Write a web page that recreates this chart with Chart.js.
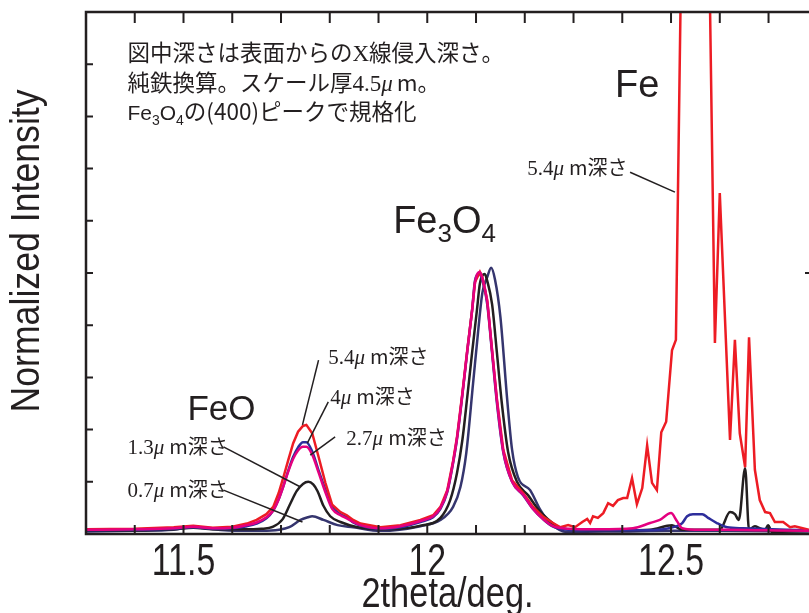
<!DOCTYPE html>
<html>
<head>
<meta charset="utf-8">
<script src="https://cdn.jsdelivr.net/npm/chart.js@4.4.0/dist/chart.umd.min.js"></script>
<style>
  body { margin: 0; background: #fff; }
  canvas { display: block; }
</style>
</head>
<body>
<canvas id="myChart" width="809" height="613"></canvas>
<script>
// x ticks (deg) and y ticks (no labels)
const xTicks = [11.4, 11.5, 11.6, 11.7, 11.8, 11.9, 12.0, 12.1, 12.2, 12.3, 12.4, 12.5, 12.6, 12.7];
const xLabels = [11.5, 12, 12.5];
const yTicks = [1, 2, 3, 4, 5, 6, 7, 8, 9];

// 5.4um depth (red)
const d54X = [11.30, 11.40, 11.48, 11.52, 11.56, 11.60, 11.63, 11.65, 11.67, 11.684, 11.695, 11.705, 11.715, 11.725, 11.735, 11.745, 11.752, 11.764, 11.777, 11.791, 11.805, 11.822, 11.835, 11.848, 11.863, 11.904, 11.945, 11.986, 12.012, 12.027, 12.041, 12.053, 12.061, 12.072, 12.082, 12.092, 12.098, 12.108, 12.113, 12.123, 12.133, 12.143, 12.156, 12.174, 12.197, 12.217, 12.238, 12.258, 12.273, 12.289, 12.303, 12.318, 12.328, 12.334, 12.340, 12.350, 12.361, 12.371, 12.381, 12.391, 12.402, 12.410, 12.420, 12.430, 12.441, 12.451, 12.461, 12.471, 12.480, 12.490, 12.502, 12.510, 12.549, 12.590, 12.600, 12.621, 12.631, 12.641, 12.652, 12.660, 12.672, 12.682, 12.693, 12.703, 12.713, 12.730, 12.744, 12.754, 12.770, 12.783];
const d54Y = [0.09, 0.10, 0.13, 0.16, 0.12, 0.14, 0.20, 0.27, 0.38, 0.52, 0.78, 1.09, 1.42, 1.74, 1.96, 2.07, 2.09, 1.93, 1.48, 0.98, 0.56, 0.42, 0.36, 0.27, 0.20, 0.13, 0.17, 0.27, 0.36, 0.52, 0.84, 1.40, 1.86, 2.70, 3.52, 4.29, 4.83, 5.02, 4.92, 4.48, 3.52, 2.57, 1.61, 1.03, 0.78, 0.52, 0.33, 0.21, 0.13, 0.17, 0.13, 0.23, 0.29, 0.21, 0.34, 0.31, 0.40, 0.59, 0.54, 0.65, 0.69, 0.69, 1.07, 0.57, 0.88, 1.70, 0.98, 0.84, 1.95, 2.15, 3.52, 3.72, 30, 3.66, 6.53, 1.80, 3.72, 1.93, 1.28, 3.77, 1.23, 0.65, 0.42, 0.40, 0.23, 0.23, 0.13, 0.15, 0.11, 0.08];

// 4um depth (blue)
const d40X = [11.30, 11.40, 11.48, 11.52, 11.56, 11.60, 11.63, 11.65, 11.67, 11.684, 11.695, 11.705, 11.715, 11.725, 11.735, 11.745, 11.752, 11.764, 11.777, 11.791, 11.805, 11.822, 11.835, 11.848, 11.863, 11.904, 11.945, 11.986, 12.012, 12.027, 12.041, 12.053, 12.061, 12.072, 12.082, 12.092, 12.098, 12.106, 12.113, 12.123, 12.133, 12.143, 12.156, 12.174, 12.197, 12.217, 12.238, 12.258, 12.29, 12.35, 12.45, 12.512, 12.523, 12.533, 12.545, 12.564, 12.576, 12.594, 12.615, 12.648, 12.783];
const d40Y = [0.07, 0.08, 0.10, 0.13, 0.10, 0.11, 0.15, 0.20, 0.30, 0.45, 0.66, 0.92, 1.22, 1.48, 1.66, 1.76, 1.76, 1.58, 1.22, 0.85, 0.52, 0.38, 0.32, 0.22, 0.16, 0.10, 0.13, 0.23, 0.32, 0.48, 0.80, 1.36, 1.82, 2.66, 3.50, 4.30, 4.86, 4.98, 4.86, 4.40, 3.46, 2.50, 1.56, 1.00, 0.74, 0.48, 0.28, 0.14, 0.08, 0.07, 0.07, 0.15, 0.21, 0.34, 0.38, 0.38, 0.31, 0.21, 0.13, 0.11, 0.07];

// 2.7um depth (magenta)
const d27X = [11.30, 11.40, 11.48, 11.52, 11.56, 11.60, 11.63, 11.65, 11.67, 11.684, 11.695, 11.705, 11.715, 11.725, 11.735, 11.745, 11.752, 11.764, 11.777, 11.791, 11.805, 11.822, 11.835, 11.848, 11.863, 11.904, 11.945, 11.986, 12.012, 12.027, 12.041, 12.053, 12.061, 12.072, 12.082, 12.092, 12.098, 12.108, 12.113, 12.123, 12.133, 12.143, 12.156, 12.174, 12.197, 12.217, 12.238, 12.258, 12.29, 12.35, 12.422, 12.457, 12.477, 12.50, 12.512, 12.523, 12.56, 12.615, 12.70, 12.783];
const d27Y = [0.08, 0.09, 0.11, 0.14, 0.11, 0.12, 0.17, 0.22, 0.32, 0.45, 0.66, 0.92, 1.20, 1.44, 1.60, 1.67, 1.67, 1.52, 1.18, 0.80, 0.48, 0.36, 0.30, 0.23, 0.17, 0.11, 0.15, 0.25, 0.34, 0.50, 0.82, 1.38, 1.84, 2.68, 3.50, 4.28, 4.82, 5.02, 4.90, 4.45, 3.50, 2.55, 1.58, 1.00, 0.75, 0.48, 0.28, 0.15, 0.10, 0.09, 0.11, 0.21, 0.27, 0.40, 0.25, 0.11, 0.08, 0.08, 0.07, 0.06];

// 1.3um depth (black)
const d13X = [11.30, 11.40, 11.48, 11.52, 11.56, 11.62, 11.66, 11.684, 11.703, 11.719, 11.732, 11.745, 11.756, 11.766, 11.775, 11.787, 11.801, 11.822, 11.857, 11.904, 11.945, 11.986, 12.027, 12.047, 12.061, 12.072, 12.082, 12.092, 12.102, 12.108, 12.118, 12.123, 12.133, 12.143, 12.153, 12.166, 12.184, 12.207, 12.227, 12.248, 12.268, 12.30, 12.40, 12.457, 12.502, 12.523, 12.600, 12.621, 12.631, 12.639, 12.652, 12.660, 12.672, 12.682, 12.693, 12.699, 12.707, 12.783];
const d13Y = [0.06, 0.07, 0.09, 0.12, 0.09, 0.09, 0.10, 0.14, 0.28, 0.58, 0.82, 0.96, 1.00, 0.95, 0.82, 0.54, 0.34, 0.23, 0.13, 0.09, 0.10, 0.16, 0.31, 0.65, 1.17, 1.80, 2.62, 3.48, 4.30, 4.80, 4.98, 4.85, 4.40, 3.46, 2.50, 1.56, 1.00, 0.74, 0.48, 0.28, 0.14, 0.08, 0.07, 0.08, 0.17, 0.08, 0.08, 0.42, 0.38, 0.27, 1.26, 0.08, 0.15, 0.11, 0.08, 0.17, 0.04, 0.06];

// 0.7um depth (navy)
const d07X = [11.30, 11.40, 11.48, 11.52, 11.56, 11.62, 11.66, 11.696, 11.717, 11.740, 11.755, 11.764, 11.787, 11.816, 11.848, 11.904, 11.986, 12.027, 12.053, 12.068, 12.080, 12.094, 12.104, 12.113, 12.123, 12.131, 12.139, 12.150, 12.164, 12.174, 12.186, 12.211, 12.232, 12.252, 12.287, 12.40, 12.50, 12.60, 12.783];
const d07Y = [0.05, 0.06, 0.08, 0.14, 0.09, 0.06, 0.06, 0.08, 0.13, 0.27, 0.32, 0.34, 0.27, 0.17, 0.13, 0.06, 0.15, 0.27, 0.52, 0.90, 1.55, 2.89, 3.85, 4.62, 4.92, 5.10, 4.87, 4.16, 2.57, 1.61, 1.09, 0.84, 0.46, 0.21, 0.04, 0.05, 0.06, 0.06, 0.05];

const ink = '#231f20';
const sans = "'Liberation Sans', Arial, sans-serif";
const jp = "'Noto Sans CJK JP', sans-serif";
const serif = "'Liberation Serif', serif";

function pts(xs, ys) {
  return xs.map((x, i) => ({ x: x, y: ys[i] }));
}

function drawRich(ctx, x, y, segs) {
  ctx.textBaseline = 'alphabetic';
  ctx.textAlign = 'left';
  segs.forEach((s) => {
    ctx.font = s.font;
    ctx.fillText(s.t, x, y + (s.dy || 0));
    x += ctx.measureText(s.t).width + (s.gap || 0);
  });
}

// narrow Helvetica look: squeeze Liberation Sans horizontally
function drawSqueezed(ctx, text, cx, cy, font, sx, rot) {
  ctx.save();
  ctx.translate(cx, cy);
  if (rot) ctx.rotate(rot);
  ctx.scale(sx, 1);
  ctx.font = font;
  ctx.textAlign = 'center';
  ctx.fillText(text, 0, 0);
  ctx.restore();
}

function depthLabel(num) {
  return [
    { t: num, font: '21px ' + serif },
    { t: 'μ', font: 'italic 21px ' + serif, gap: 5 },
    { t: 'm深さ', font: '20px ' + jp }
  ];
}

// annotation anchors in data units
const notes = {
  info: [
    { x: 11.385, y: 9.06, segs: [
      { t: '図中深さは表面からの', font: '22.5px ' + jp },
      { t: 'X', font: '23px ' + serif },
      { t: '線侵入深さ。', font: '22.5px ' + jp }] },
    { x: 11.385, y: 8.49, segs: [
      { t: '純鉄換算。スケール厚', font: '22.5px ' + jp },
      { t: '4.5', font: '23px ' + serif },
      { t: 'μ', font: 'italic 23px ' + serif, gap: 4 },
      { t: 'm。', font: '22.5px ' + jp }] },
    { x: 11.385, y: 7.93, segs: [
      { t: 'Fe', font: '21px ' + sans },
      { t: '3', font: '14px ' + sans, dy: 5 },
      { t: 'O', font: '21px ' + sans },
      { t: '4', font: '14px ' + sans, dy: 5 },
      { t: 'の(400)ピークで規格化', font: '22.5px ' + jp }] }
  ],
  peaks: [
    { x: 11.508, y: 2.18, segs: [{ t: 'FeO', font: '35px ' + sans }] },
    { x: 11.930, y: 5.77, segs: [
      { t: 'Fe', font: '38px ' + sans },
      { t: '3', font: '26px ' + sans, dy: 9 },
      { t: 'O', font: '38px ' + sans },
      { t: '4', font: '26px ' + sans, dy: 9 }] },
    { x: 12.385, y: 8.37, segs: [{ t: 'Fe', font: '38px ' + sans }] }
  ],
  depths: [
    { num: '5.4', x: 11.797, y: 3.26, from: [11.777, 3.33], to: [11.744, 2.09] },
    { num: '4', x: 11.801, y: 2.49, from: [11.797, 2.53], to: [11.754, 1.74] },
    { num: '2.7', x: 11.834, y: 1.70, from: [11.811, 1.86], to: [11.760, 1.51] },
    { num: '1.3', x: 11.385, y: 1.53, from: [11.582, 1.67], to: [11.740, 0.90] },
    { num: '0.7', x: 11.385, y: 0.71, from: [11.582, 0.84], to: [11.744, 0.23] },
    { num: '5.4', x: 12.205, y: 6.88, from: [12.416, 6.93], to: [12.508, 6.55] }
  ]
};

const framePlugin = {
  id: 'frame',
  afterDatasetsDraw(chart) {
    const { ctx, chartArea: a, scales: { x, y } } = chart;
    ctx.save();
    ctx.strokeStyle = ink;
    ctx.fillStyle = ink;

    // frame (right side is cut off in the original)
    ctx.lineWidth = 2.5;
    ctx.beginPath();
    ctx.moveTo(a.right + 2, a.top);
    ctx.lineTo(a.left, a.top);
    ctx.lineTo(a.left, a.bottom);
    ctx.lineTo(a.right + 2, a.bottom);
    ctx.stroke();

    // inward ticks
    ctx.lineWidth = 2;
    ctx.beginPath();
    xTicks.forEach((v) => {
      const px = x.getPixelForValue(v);
      ctx.moveTo(px, a.bottom);
      ctx.lineTo(px, a.bottom - 9);
      ctx.moveTo(px, a.top);
      ctx.lineTo(px, a.top + 11);
    });
    yTicks.forEach((v) => {
      const py = y.getPixelForValue(v);
      ctx.moveTo(a.left, py);
      ctx.lineTo(a.left + 7, py);
    });
    const py5 = y.getPixelForValue(5);
    ctx.moveTo(a.right, py5);
    ctx.lineTo(a.right - 4, py5);
    ctx.stroke();

    // tick labels and axis titles
    ctx.textBaseline = 'alphabetic';
    xLabels.forEach((v) => {
      drawSqueezed(ctx, String(v), x.getPixelForValue(v), a.bottom + 41, '44px ' + sans, 0.77);
    });
    drawSqueezed(ctx, '2theta/deg.', (a.left + a.right) / 2, a.bottom + 73, '43px ' + sans, 0.8);
    ctx.textBaseline = 'middle';
    drawSqueezed(ctx, 'Normalized Intensity', 28, 251, '41px ' + sans, 0.87, -Math.PI / 2);

    // texts
    notes.info.concat(notes.peaks).forEach((n) => {
      drawRich(ctx, x.getPixelForValue(n.x), y.getPixelForValue(n.y), n.segs);
    });

    ctx.lineWidth = 1.5;
    notes.depths.forEach((n) => {
      drawRich(ctx, x.getPixelForValue(n.x), y.getPixelForValue(n.y), depthLabel(n.num));
      ctx.beginPath();
      ctx.moveTo(x.getPixelForValue(n.from[0]), y.getPixelForValue(n.from[1]));
      ctx.lineTo(x.getPixelForValue(n.to[0]), y.getPixelForValue(n.to[1]));
      ctx.stroke();
    });
    ctx.restore();
  }
};

function series(label, xs, ys, color, order, smooth) {
  return {
    label: label,
    data: pts(xs, ys),
    borderColor: color,
    backgroundColor: color,
    borderWidth: 2.5,
    pointRadius: 0,
    showLine: true,
    fill: false,
    order: order,
    tension: 0,
    cubicInterpolationMode: smooth ? 'monotone' : 'default'
  };
}

const ctx = document.getElementById('myChart');
const myChart = new Chart(ctx, {
  type: 'scatter',
  data: {
    datasets: [
      series('5.4um', d54X, d54Y, '#ed1c24', 2, false),
      series('4um', d40X, d40Y, '#2d2d9b', 3, true),
      series('2.7um', d27X, d27Y, '#e4007f', 1, true),
      series('1.3um', d13X, d13Y, ink, 4, true),
      series('0.7um', d07X, d07Y, '#35356e', 5, true)
    ]
  },
  options: {
    responsive: false,
    animation: false,
    events: [],
    layout: { padding: { left: 86, top: 12, right: 0, bottom: 79 } },
    plugins: { legend: { display: false }, tooltip: { enabled: false } },
    scales: {
      x: { type: 'linear', display: false, min: 11.3, max: 12.783 },
      y: { type: 'linear', display: false, min: 0, max: 10 }
    }
  },
  plugins: [framePlugin]
});
</script>
</body>
</html>
